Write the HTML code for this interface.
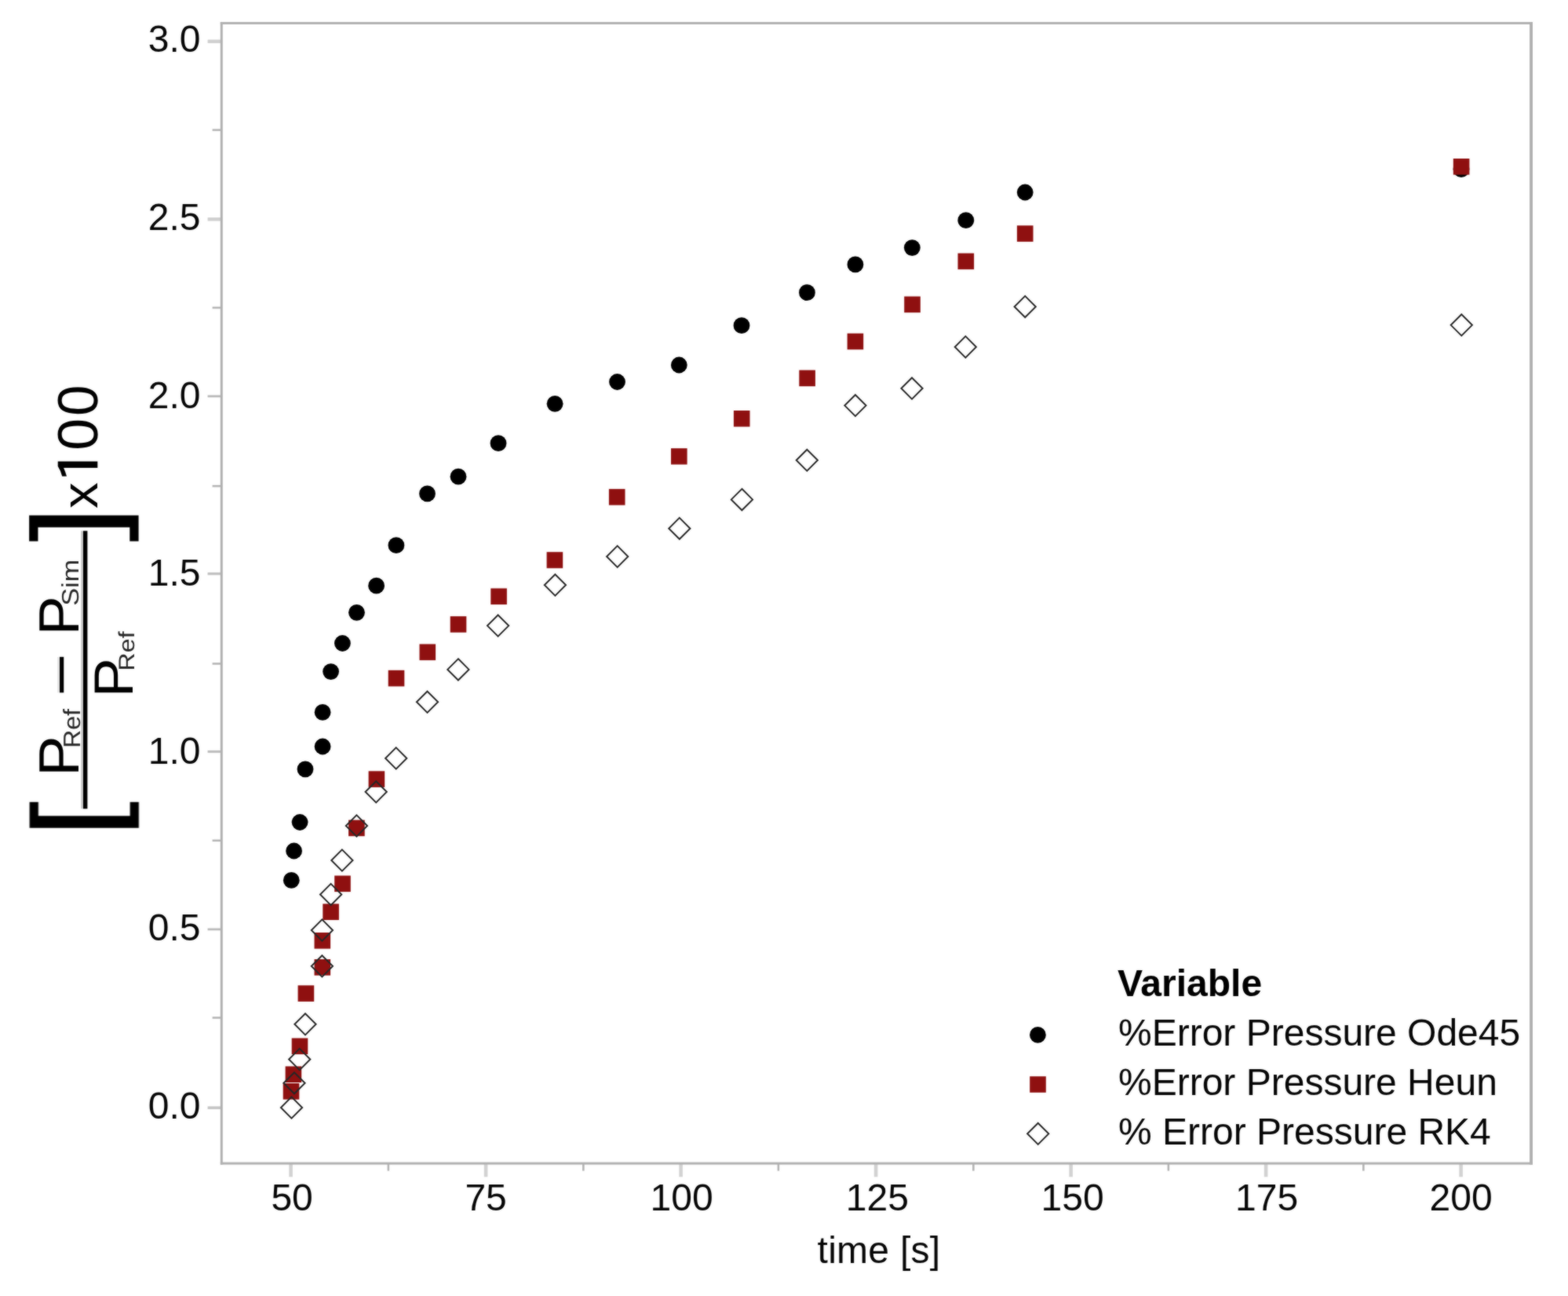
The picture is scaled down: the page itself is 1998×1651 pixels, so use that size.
<!DOCTYPE html>
<html lang="en"><head><meta charset="utf-8"><title>% Error Pressure vs time</title>
<style>html,body{margin:0;padding:0;background:#fff}body{width:1998px;height:1651px;overflow:hidden}svg{display:block}text{font-family:"Liberation Sans",sans-serif;fill:#050505}</style></head><body>
<svg width="1998" height="1651" viewBox="0 0 1998 1651">
<rect width="1998" height="1651" fill="#fff"/>
<defs><filter id="soft" x="0" y="0" width="1998" height="1651" filterUnits="userSpaceOnUse" color-interpolation-filters="sRGB"><feGaussianBlur in="SourceGraphic" stdDeviation="0.8" result="b"/><feComposite in="SourceGraphic" in2="b" operator="arithmetic" k1="0" k2="0.50" k3="0.50" k4="0"/></filter></defs>
<g filter="url(#soft)">
<g stroke="#d2d2d2" stroke-width="4.6">
<line x1="370.60" y1="1482.1" x2="370.60" y2="1499.3"/>
<line x1="619.10" y1="1482.1" x2="619.10" y2="1499.3"/>
<line x1="867.60" y1="1482.1" x2="867.60" y2="1499.3"/>
<line x1="1116.10" y1="1482.1" x2="1116.10" y2="1499.3"/>
<line x1="1364.60" y1="1482.1" x2="1364.60" y2="1499.3"/>
<line x1="1613.10" y1="1482.1" x2="1613.10" y2="1499.3"/>
<line x1="1861.60" y1="1482.1" x2="1861.60" y2="1499.3"/>
</g>
<line x1="264.6" y1="52.75" x2="282.3" y2="52.75" stroke="#cfcfcf" stroke-width="4.4"/>
<line x1="264.6" y1="279.30" x2="282.3" y2="279.30" stroke="#cfcfcf" stroke-width="4.4"/>
<line x1="264.6" y1="504.80" x2="282.3" y2="504.80" stroke="#b8b8b8" stroke-width="2.8"/>
<line x1="264.6" y1="730.90" x2="282.3" y2="730.90" stroke="#bebebe" stroke-width="3.2"/>
<line x1="264.6" y1="957.50" x2="282.3" y2="957.50" stroke="#bebebe" stroke-width="3.2"/>
<line x1="264.6" y1="1183.90" x2="282.3" y2="1183.90" stroke="#b8b8b8" stroke-width="2.8"/>
<line x1="264.6" y1="1411.20" x2="282.3" y2="1411.20" stroke="#c4c4c4" stroke-width="3.6"/>
<g stroke="#b4b4b4" stroke-width="2.6">
<line x1="494.85" y1="1482.1" x2="494.85" y2="1491.6"/>
<line x1="743.35" y1="1482.1" x2="743.35" y2="1491.6"/>
<line x1="991.85" y1="1482.1" x2="991.85" y2="1491.6"/>
<line x1="1240.35" y1="1482.1" x2="1240.35" y2="1491.6"/>
<line x1="1488.85" y1="1482.1" x2="1488.85" y2="1491.6"/>
<line x1="1737.35" y1="1482.1" x2="1737.35" y2="1491.6"/>
<line x1="270.6" y1="165.60" x2="282.3" y2="165.60"/>
<line x1="270.6" y1="392.00" x2="282.3" y2="392.00"/>
<line x1="270.6" y1="619.20" x2="282.3" y2="619.20"/>
<line x1="270.6" y1="845.50" x2="282.3" y2="845.50"/>
<line x1="270.6" y1="1070.80" x2="282.3" y2="1070.80"/>
<line x1="270.6" y1="1296.50" x2="282.3" y2="1296.50"/>
</g>
<g fill="#b0b0b0">
<rect x="280.8" y="28.0" width="1672.2" height="3.0"/>
<rect x="280.8" y="1480.6" width="1672.2" height="3.0"/>
<rect x="280.8" y="28.0" width="3.0" height="1455.6"/>
<rect x="1949.1" y="28.0" width="3.9" height="1455.6"/>
</g>
<g font-size="48">
<text transform="translate(255.5 66.3) scale(1 1.00)" text-anchor="end">3.0</text>
<text transform="translate(255.5 293.0) scale(1 1.00)" text-anchor="end">2.5</text>
<text transform="translate(255.5 519.6) scale(1 1.00)" text-anchor="end">2.0</text>
<text transform="translate(255.5 746.1) scale(1 1.00)" text-anchor="end">1.5</text>
<text transform="translate(255.5 972.6) scale(1 1.00)" text-anchor="end">1.0</text>
<text transform="translate(255.5 1198.0) scale(1 1.00)" text-anchor="end">0.5</text>
<text transform="translate(255.5 1425.4) scale(1 1.00)" text-anchor="end">0.0</text>
<text transform="translate(372.1 1542.3) scale(1 1.00)" text-anchor="middle">50</text>
<text transform="translate(619.1 1542.3) scale(1 1.00)" text-anchor="middle">75</text>
<text transform="translate(868.6 1542.3) scale(1 1.00)" text-anchor="middle">100</text>
<text transform="translate(1117.9 1542.3) scale(1 1.00)" text-anchor="middle">125</text>
<text transform="translate(1366.6 1542.3) scale(1 1.00)" text-anchor="middle">150</text>
<text transform="translate(1614.1 1542.3) scale(1 1.00)" text-anchor="middle">175</text>
<text transform="translate(1861.6 1542.3) scale(1 1.00)" text-anchor="middle">200</text>
<text transform="translate(1120.0 1608.8) scale(1 1.00)" text-anchor="middle" letter-spacing="0.28">time [s]</text>
</g>
<g fill="#000">
<circle cx="371.3" cy="1121.4" r="10.4"/>
<circle cx="374.6" cy="1084.0" r="10.4"/>
<circle cx="382.1" cy="1047.5" r="10.4"/>
<circle cx="389.0" cy="979.8" r="10.4"/>
<circle cx="411.1" cy="951.0" r="10.4"/>
<circle cx="411.1" cy="907.4" r="10.4"/>
<circle cx="421.6" cy="855.6" r="10.4"/>
<circle cx="436.4" cy="819.5" r="10.4"/>
<circle cx="454.5" cy="780.3" r="10.4"/>
<circle cx="479.6" cy="746.2" r="10.4"/>
<circle cx="504.9" cy="694.7" r="10.4"/>
<circle cx="544.5" cy="628.9" r="10.4"/>
<circle cx="584.0" cy="607.2" r="10.4"/>
<circle cx="635.0" cy="564.7" r="10.4"/>
<circle cx="707.1" cy="514.3" r="10.4"/>
<circle cx="786.5" cy="486.5" r="10.4"/>
<circle cx="865.3" cy="465.0" r="10.4"/>
<circle cx="945.0" cy="414.7" r="10.4"/>
<circle cx="1028.4" cy="372.7" r="10.4"/>
<circle cx="1089.9" cy="336.9" r="10.4"/>
<circle cx="1162.3" cy="315.6" r="10.4"/>
<circle cx="1230.8" cy="280.6" r="10.4"/>
<circle cx="1306.2" cy="245.0" r="10.4"/>
<circle cx="1862.0" cy="215.6" r="10.4"/>
<circle cx="1322.4" cy="1318.4" r="10.4"/>
</g>
<g fill="#8f1010">
<rect x="360.7" y="1380.0" width="20.6" height="20.6"/>
<rect x="363.6" y="1358.4" width="20.6" height="20.6"/>
<rect x="371.7" y="1322.5" width="20.6" height="20.6"/>
<rect x="379.6" y="1255.3" width="20.6" height="20.6"/>
<rect x="400.5" y="1222.0" width="20.6" height="20.6"/>
<rect x="400.5" y="1188.0" width="20.6" height="20.6"/>
<rect x="411.3" y="1151.4" width="20.6" height="20.6"/>
<rect x="426.2" y="1115.5" width="20.6" height="20.6"/>
<rect x="444.1" y="1044.6" width="20.6" height="20.6"/>
<rect x="469.6" y="982.3" width="20.6" height="20.6"/>
<rect x="494.7" y="853.8" width="20.6" height="20.6"/>
<rect x="534.5" y="820.5" width="20.6" height="20.6"/>
<rect x="573.7" y="785.1" width="20.6" height="20.6"/>
<rect x="625.3" y="749.5" width="20.6" height="20.6"/>
<rect x="696.6" y="703.2" width="20.6" height="20.6"/>
<rect x="775.9" y="622.9" width="20.6" height="20.6"/>
<rect x="855.0" y="571.1" width="20.6" height="20.6"/>
<rect x="934.9" y="523.0" width="20.6" height="20.6"/>
<rect x="1018.3" y="471.5" width="20.6" height="20.6"/>
<rect x="1079.6" y="424.7" width="20.6" height="20.6"/>
<rect x="1152.2" y="377.6" width="20.6" height="20.6"/>
<rect x="1220.5" y="322.6" width="20.6" height="20.6"/>
<rect x="1295.9" y="287.3" width="20.6" height="20.6"/>
<rect x="1851.8" y="202.0" width="20.6" height="20.6"/>
<rect x="1312.2" y="1371.2" width="20.6" height="20.6"/>
</g>
<g fill="none" stroke="#262626" stroke-width="2">
<path d="M371.5 1397.4L385.1 1411.0L371.5 1424.6L357.9 1411.0Z"/>
<path d="M375.0 1366.2L388.6 1379.8L375.0 1393.3L361.4 1379.8Z"/>
<path d="M381.7 1335.9L395.3 1349.5L381.7 1363.1L368.1 1349.5Z"/>
<path d="M389.0 1291.2L402.6 1304.8L389.0 1318.4L375.4 1304.8Z"/>
<path d="M410.4 1217.2L424.0 1230.8L410.4 1244.4L396.8 1230.8Z"/>
<path d="M410.4 1171.4L424.0 1185.0L410.4 1198.6L396.8 1185.0Z"/>
<path d="M421.6 1125.9L435.2 1139.5L421.6 1153.1L408.0 1139.5Z"/>
<path d="M435.9 1082.4L449.5 1096.0L435.9 1109.6L422.3 1096.0Z"/>
<path d="M454.4 1038.4L468.0 1052.0L454.4 1065.6L440.8 1052.0Z"/>
<path d="M479.2 995.2L492.8 1008.8L479.2 1022.4L465.6 1008.8Z"/>
<path d="M504.7 952.4L518.3 966.0L504.7 979.6L491.1 966.0Z"/>
<path d="M544.5 880.7L558.1 894.3L544.5 907.9L530.9 894.3Z"/>
<path d="M583.9 839.3L597.5 852.9L583.9 866.5L570.3 852.9Z"/>
<path d="M634.6 783.5L648.2 797.1L634.6 810.7L621.0 797.1Z"/>
<path d="M707.4 731.7L721.0 745.3L707.4 758.9L693.8 745.3Z"/>
<path d="M786.7 695.4L800.3 709.0L786.7 722.6L773.1 709.0Z"/>
<path d="M865.8 659.6L879.4 673.2L865.8 686.8L852.2 673.2Z"/>
<path d="M945.4 622.8L959.0 636.4L945.4 650.0L931.8 636.4Z"/>
<path d="M1028.3 572.7L1041.9 586.3L1028.3 599.9L1014.7 586.3Z"/>
<path d="M1089.9 503.0L1103.5 516.6L1089.9 530.2L1076.3 516.6Z"/>
<path d="M1162.0 481.2L1175.6 494.8L1162.0 508.4L1148.4 494.8Z"/>
<path d="M1230.3 428.4L1243.9 442.0L1230.3 455.6L1216.7 442.0Z"/>
<path d="M1306.2 377.1L1319.8 390.7L1306.2 404.3L1292.6 390.7Z"/>
<path d="M1862.3 400.5L1875.9 414.1L1862.3 427.7L1848.7 414.1Z"/>
<path d="M1322.7 1430.7L1336.3 1444.3L1322.7 1457.9L1309.1 1444.3Z"/>
</g>
<g font-size="48">
<text style="fill:#000" transform="translate(1424.0 1269.0) scale(1 1.00)" font-weight="bold">Variable</text>
<text transform="translate(1425.0 1332.0) scale(1 1.00)">%Error Pressure Ode45</text>
<text transform="translate(1425.0 1395.0) scale(1 1.00)">%Error Pressure Heun</text>
<text transform="translate(1425.0 1458.0) scale(1 1.00)">% Error Pressure RK4</text>
</g>
<g fill="#000" text-rendering="geometricPrecision">
<text transform="translate(145.27 1064.80) rotate(-90) scale(0.15498 0.14783)" font-size="1000" style="fill:#000" stroke="#000" stroke-width="13.870" stroke-linejoin="miter">[</text>
<text transform="translate(145.09 689.67) rotate(-90) scale(0.15649 0.14773)" font-size="1000" style="fill:#000" stroke="#000" stroke-width="13.806" stroke-linejoin="miter">]</text>
<rect x="103.2" y="676.3" width="3" height="354.0" fill="#c6c6c6"/>
<rect x="106.0" y="676.3" width="5.4" height="354.0" fill="#000"/>
<text transform="translate(99.70 989.07) rotate(-90) scale(0.07760 0.07238)" font-size="1000" style="fill:#000">P</text>
<text transform="translate(101.90 952.94) rotate(-90) scale(0.03212 0.03041)" font-size="1000" style="fill:#262626">Ref</text>
<rect x="73.3" y="837.0" width="3" height="45.4" fill="#e2e2e2"/>
<text transform="translate(102.95 887.01) rotate(-90) scale(0.09345 0.07294)" font-size="1000" style="fill:#000">−</text>
<text transform="translate(99.70 809.57) rotate(-90) scale(0.07516 0.07238)" font-size="1000" style="fill:#000">P</text>
<text transform="translate(100.00 771.86) rotate(-90) scale(0.03445 0.03050)" font-size="1000" style="fill:#262626">Sim</text>
<text transform="translate(168.70 888.58) rotate(-90) scale(0.07534 0.07050)" font-size="1000" style="fill:#000">P</text>
<text transform="translate(170.92 854.87) rotate(-90) scale(0.03260 0.02836)" font-size="1000" style="fill:#262626">Ref</text>
<text transform="translate(124.30 647.84) rotate(-90) scale(0.06631 0.06454)" font-size="1000" style="fill:#000">x</text>
<text transform="translate(127.98 618.93) rotate(-90) scale(0.10267 0.07241)" font-size="1000" style="fill:#000;font-family:IPAGothic,'Liberation Sans',sans-serif">1</text>
<text transform="translate(124.09 573.75) rotate(-90) scale(0.07301 0.07274)" font-size="1000" style="fill:#000">0</text>
<text transform="translate(124.09 529.88) rotate(-90) scale(0.07113 0.07274)" font-size="1000" style="fill:#000">0</text>
</g>
</g>
</svg></body></html>
